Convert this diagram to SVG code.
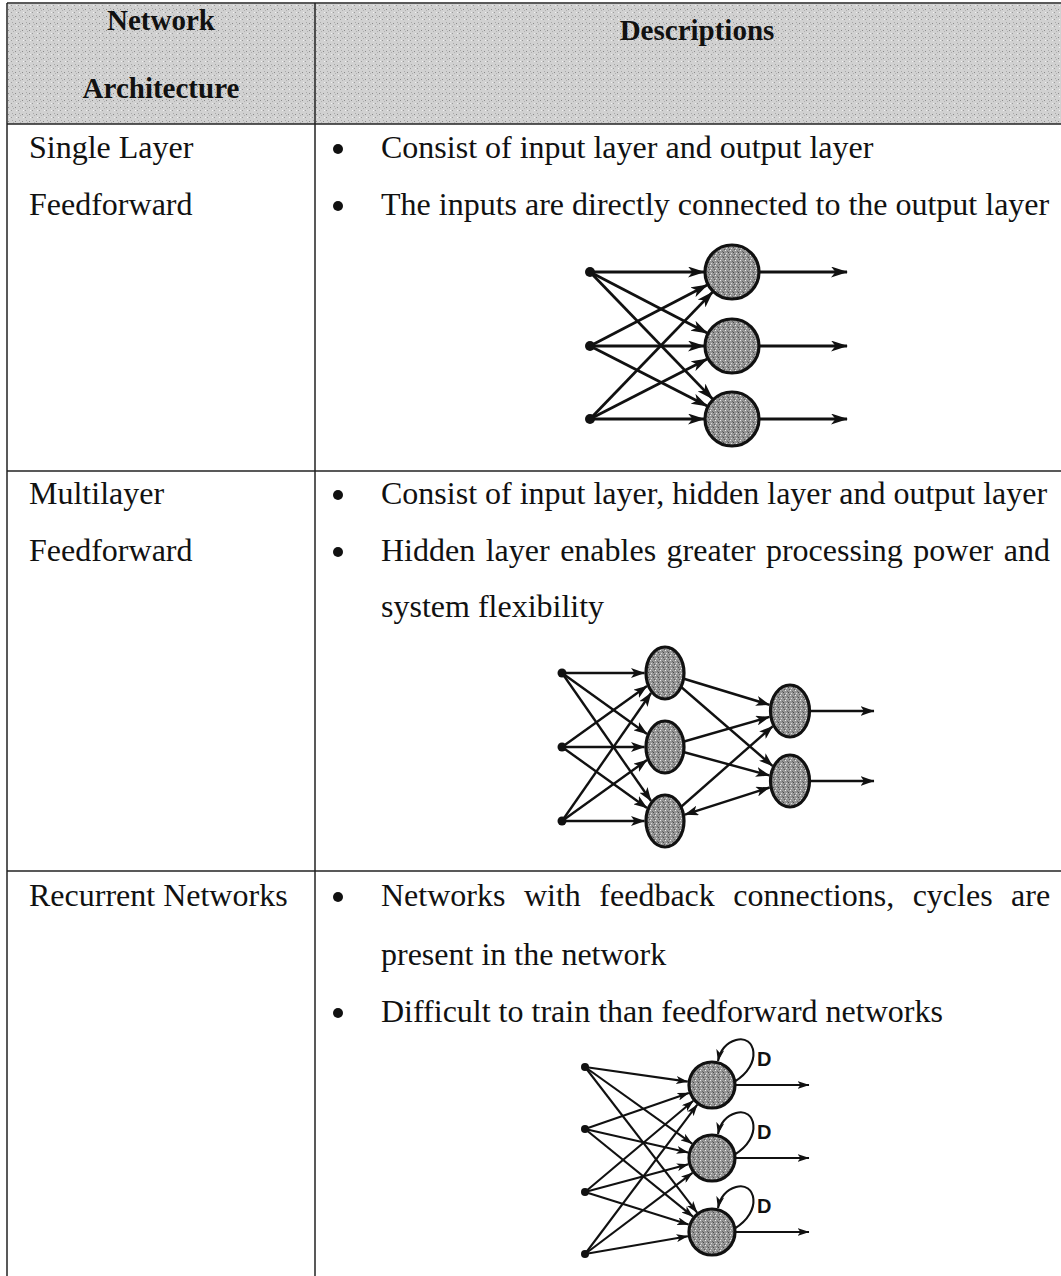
<svg xmlns="http://www.w3.org/2000/svg" width="1061" height="1276" viewBox="0 0 1061 1276">
<defs>
<pattern id="hdr" width="7" height="7" patternUnits="userSpaceOnUse"><rect width="7" height="7" fill="#d1d1d1"/><rect x="1" y="2" width="1" height="1" fill="#8a8a8a"/><rect x="4" y="5" width="1" height="1" fill="#9a9a9a"/><rect x="5" y="1" width="1" height="1" fill="#a8a8a8"/><rect x="2" y="5" width="1" height="1" fill="#f0f0f0"/><rect x="6" y="3" width="1" height="1" fill="#b0b0b0"/></pattern>
<pattern id="nf" width="5" height="5" patternUnits="userSpaceOnUse"><rect width="5" height="5" fill="#969696"/><rect x="0" y="0" width="1" height="1" fill="#ececec"/><rect x="3" y="2" width="1" height="1" fill="#4a4a4a"/><rect x="1" y="3" width="1" height="1" fill="#dcdcdc"/><rect x="4" y="4" width="1" height="1" fill="#5a5a5a"/><rect x="2" y="1" width="1" height="1" fill="#6a6a6a"/></pattern>
<marker id="ah1" markerUnits="userSpaceOnUse" markerWidth="17" markerHeight="11" refX="16" refY="5.5" orient="auto"><path d="M0,0 L17,5.5 L0,11 L4.5,5.5 Z" fill="#111"/></marker>
<marker id="ah2" markerUnits="userSpaceOnUse" markerWidth="14" markerHeight="10" refX="13.5" refY="5" orient="auto"><path d="M0,0 L14,5 L0,10 L3.5,5 Z" fill="#111"/></marker>
<marker id="ah2s" markerUnits="userSpaceOnUse" markerWidth="14" markerHeight="10" refX="13.5" refY="5" orient="auto-start-reverse"><path d="M0,0 L14,5 L0,10 L3.5,5 Z" fill="#111"/></marker>
<marker id="ah3" markerUnits="userSpaceOnUse" markerWidth="12" markerHeight="8" refX="11.5" refY="4" orient="auto"><path d="M0,0 L12,4 L0,8 L3,4 Z" fill="#111"/></marker>
<style>
.grid{stroke:#222;stroke-width:1.5;fill:none}
.t{font-family:"Liberation Serif","Times New Roman",serif;font-size:32px;fill:#111}
.h{font-family:"Liberation Serif","Times New Roman",serif;font-size:29px;font-weight:bold;fill:#111;text-anchor:middle}
.d{font-family:"Liberation Sans",Arial,sans-serif;font-size:20px;font-weight:bold;fill:#111}
.bul{fill:#111}
.e1{stroke:#111;stroke-width:2.8;fill:none;marker-end:url(#ah1)}
.e2{stroke:#111;stroke-width:2.4;fill:none;marker-end:url(#ah2)}
.e3{stroke:#111;stroke-width:2.1;fill:none;marker-end:url(#ah3)}
.n{fill:url(#nf);stroke:#111;stroke-width:3.2}
.in{fill:#111}
</style>
</defs>
<rect x="0" y="0" width="1061" height="1276" fill="#fff"/>
<g id="table">
<rect x="8" y="4" width="1053" height="120" fill="url(#hdr)"/>
<line class="grid" x1="7" y1="3" x2="1061" y2="3"/>
<line class="grid" x1="7" y1="124" x2="1061" y2="124"/>
<line class="grid" x1="7" y1="471" x2="1061" y2="471"/>
<line class="grid" x1="7" y1="871" x2="1061" y2="871"/>
<line class="grid" x1="7" y1="3" x2="7" y2="1276"/>
<line class="grid" x1="315" y1="3" x2="315" y2="1276"/>
</g>
<g id="header">
<text class="h" x="161" y="30">Network</text>
<text class="h" x="161" y="98">Architecture</text>
<text class="h" x="697" y="40">Descriptions</text>
</g>
<g id="row1-text">
<text class="t" x="29" y="158">Single Layer</text>
<text class="t" x="29" y="215">Feedforward</text>
<circle class="bul" cx="338" cy="149" r="5"/>
<text class="t" x="381" y="158">Consist of input layer and output layer</text>
<circle class="bul" cx="338" cy="206" r="5"/>
<text class="t" x="381" y="215">The inputs are directly connected to the output layer</text>
</g>
<g id="row2-text">
<text class="t" x="29" y="504">Multilayer</text>
<text class="t" x="29" y="561">Feedforward</text>
<circle class="bul" cx="338" cy="495" r="5"/>
<text class="t" x="381" y="504">Consist of input layer, hidden layer and output layer</text>
<circle class="bul" cx="338" cy="552" r="5"/>
<text class="t" x="381" y="561" style="word-spacing:2.5px">Hidden layer enables greater processing power and</text>
<text class="t" x="381" y="617">system flexibility</text>
</g>
<g id="row3-text">
<text class="t" x="29" y="906">Recurrent Networks</text>
<circle class="bul" cx="338" cy="897" r="5"/>
<text class="t" x="381" y="906" style="word-spacing:10.5px">Networks with feedback connections, cycles are</text>
<text class="t" x="381" y="965">present in the network</text>
<circle class="bul" cx="338" cy="1013" r="5"/>
<text class="t" x="381" y="1022">Difficult to train than feedforward networks</text>
</g>
<g id="connectors">
<g id="edges-single">
<line class="e1" x1="590" y1="272" x2="704" y2="272"/>
<line class="e1" x1="590" y1="272" x2="707.2" y2="333.1"/>
<line class="e1" x1="590" y1="272" x2="712.5" y2="398.9"/>
<line class="e1" x1="590" y1="346" x2="707.2" y2="284.9"/>
<line class="e1" x1="590" y1="346" x2="704" y2="346"/>
<line class="e1" x1="590" y1="346" x2="707.2" y2="406.1"/>
<line class="e1" x1="590" y1="419" x2="712.5" y2="292.1"/>
<line class="e1" x1="590" y1="419" x2="707.2" y2="358.9"/>
<line class="e1" x1="590" y1="419" x2="704" y2="419"/>
<line class="e1" x1="732" y1="272" x2="847" y2="272"/>
<line class="e1" x1="732" y1="346" x2="847" y2="346"/>
<line class="e1" x1="732" y1="419" x2="847" y2="419"/>
</g>
<g id="edges-multi">
<line class="e2" x1="562" y1="673" x2="644.5" y2="673"/>
<line class="e2" x1="562" y1="673" x2="647" y2="734"/>
<line class="e2" x1="562" y1="673" x2="651.1" y2="801"/>
<line class="e2" x1="562" y1="747" x2="647" y2="686"/>
<line class="e2" x1="562" y1="747" x2="644.5" y2="747"/>
<line class="e2" x1="562" y1="747" x2="647" y2="808"/>
<line class="e2" x1="562" y1="821" x2="651.1" y2="693"/>
<line class="e2" x1="562" y1="821" x2="647" y2="760"/>
<line class="e2" x1="562" y1="821" x2="644.5" y2="821"/>
<line class="e2" x1="665" y1="673" x2="769.5" y2="704.8"/>
<line class="e2" x1="665" y1="673" x2="772.5" y2="765.9"/>
<line class="e2" x1="665" y1="747" x2="769.5" y2="716.9"/>
<line class="e2" x1="665" y1="747" x2="769.4" y2="775.4"/>
<line class="e2" x1="665" y1="821" x2="772.6" y2="726.3"/>
<line class="e2" x1="684.9" y1="814.6" x2="769.6" y2="787.5" style="marker-start:url(#ah2s)"/>
<line class="e2" x1="790" y1="711" x2="874" y2="711"/>
<line class="e2" x1="790" y1="781" x2="874" y2="781"/>
</g>
<g id="edges-recurrent">
<line class="e3" x1="585" y1="1067" x2="687.7" y2="1081.6"/>
<line class="e3" x1="585" y1="1067" x2="692.1" y2="1143.7"/>
<line class="e3" x1="585" y1="1067" x2="697.1" y2="1212.6"/>
<line class="e3" x1="585" y1="1129" x2="688.8" y2="1093"/>
<line class="e3" x1="585" y1="1129" x2="688.1" y2="1152.5"/>
<line class="e3" x1="585" y1="1129" x2="693" y2="1216.6"/>
<line class="e3" x1="585" y1="1192" x2="693.3" y2="1100.8"/>
<line class="e3" x1="585" y1="1192" x2="688.3" y2="1164.3"/>
<line class="e3" x1="585" y1="1192" x2="688.6" y2="1224.6"/>
<line class="e3" x1="585" y1="1254" x2="697.3" y2="1104.6"/>
<line class="e3" x1="585" y1="1254" x2="692.5" y2="1172.8"/>
<line class="e3" x1="585" y1="1254" x2="687.9" y2="1236.2"/>
<line class="e3" x1="712" y1="1085" x2="809" y2="1085"/>
<line class="e3" x1="712" y1="1158" x2="809" y2="1158"/>
<line class="e3" x1="712" y1="1232" x2="809" y2="1232"/>
<path class="e3" d="M734,1082 C764,1064 755,1034 736,1040 C726,1043 720,1051 718,1061"/>
<path class="e3" d="M734,1155 C764,1137 755,1107 736,1113 C726,1116 720,1124 718,1134"/>
<path class="e3" d="M734,1229 C764,1211 755,1181 736,1187 C726,1190 720,1198 718,1208"/>
</g>
</g>
<g id="nodes-single">
<g id="s-in1"><circle class="in" cx="590" cy="272" r="5"/></g>
<g id="s-in2"><circle class="in" cx="590" cy="346" r="5"/></g>
<g id="s-in3"><circle class="in" cx="590" cy="419" r="5"/></g>
<g id="s-out1"><circle class="n" cx="732" cy="272" r="27"/></g>
<g id="s-out2"><circle class="n" cx="732" cy="346" r="27"/></g>
<g id="s-out3"><circle class="n" cx="732" cy="419" r="27"/></g>
</g>
<g id="nodes-multi">
<g id="m-in1"><circle class="in" cx="562" cy="673" r="4.5"/></g>
<g id="m-in2"><circle class="in" cx="562" cy="747" r="4.5"/></g>
<g id="m-in3"><circle class="in" cx="562" cy="821" r="4.5"/></g>
<g id="m-h1"><ellipse class="n" cx="665" cy="673" rx="19" ry="26"/></g>
<g id="m-h2"><ellipse class="n" cx="665" cy="747" rx="19" ry="26"/></g>
<g id="m-h3"><ellipse class="n" cx="665" cy="821" rx="19" ry="26"/></g>
<g id="m-o1"><ellipse class="n" cx="790" cy="711" rx="19.5" ry="26"/></g>
<g id="m-o2"><ellipse class="n" cx="790" cy="781" rx="19.5" ry="26"/></g>
</g>
<g id="nodes-recurrent">
<g id="r-in1"><circle class="in" cx="585" cy="1067" r="4"/></g>
<g id="r-in2"><circle class="in" cx="585" cy="1129" r="4"/></g>
<g id="r-in3"><circle class="in" cx="585" cy="1192" r="4"/></g>
<g id="r-in4"><circle class="in" cx="585" cy="1254" r="4"/></g>
<g id="r-o1"><circle class="n" cx="712" cy="1085" r="23"/><text class="d" x="757" y="1066">D</text></g>
<g id="r-o2"><circle class="n" cx="712" cy="1158" r="23"/><text class="d" x="757" y="1139">D</text></g>
<g id="r-o3"><circle class="n" cx="712" cy="1232" r="23"/><text class="d" x="757" y="1213">D</text></g>
</g>
</svg>
